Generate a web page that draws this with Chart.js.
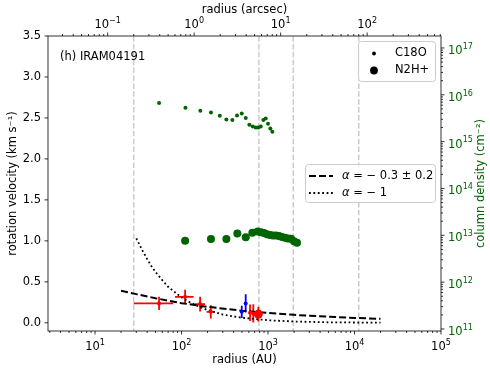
<!DOCTYPE html>
<html>
<head>
<meta charset="utf-8">
<script src="https://cdn.jsdelivr.net/npm/chart.js@4.4.1/dist/chart.umd.min.js"></script>
<style>
body { margin: 0; background: #fff; }
</style>
</head>
<body>
<canvas id="rot" width="490" height="368"></canvas>
<script>
// IRAM04191, distance 140 pc (top axis = AU / 140)
var distance = 140;

// column density (right axis)
var c18oRadius = [55, 111, 165, 219, 277, 330, 387, 438, 497, 553, 608, 666, 721, 773, 824, 883, 940, 1000, 1064, 1122];
var c18oColumn = [6.65e15, 5.27e15, 4.55e15, 4.19e15, 3.56e15, 2.97e15, 2.88e15, 3.61e15, 3.98e15, 3.18e15,
                  2.28e15, 2.10e15, 2.00e15, 2.00e15, 2.10e15, 2.88e15, 3.12e15, 2.40e15, 1.91e15, 1.62e15];
var n2hRadius = [110, 219, 330, 442, 553, 659, 760, 830, 899, 973, 1054, 1142, 1237, 1339, 1451, 1572, 1703, 1845, 1998, 2164];
var n2hColumn = [7.7e12, 8.3e12, 8.3e12, 1.09e13, 9.1e12, 1.14e13, 1.2e13, 1.16e13, 1.12e13, 1.05e13,
                 1.02e13, 9.9e12, 9.9e12, 9.7e12, 9.2e12, 8.9e12, 8.5e12, 8.4e12, 7.5e12, 6.9e12];

// rotation velocity (left axis)
var redRadius = [55, 110, 164, 218];
var redVelocity = [0.237, 0.317, 0.228, 0.134];
var redRlo = [28, 84, 143, 195];
var redRhi = [80, 138, 187, 243];
var redErr = [0.08, 0.085, 0.09, 0.08];

var blueRadius = [497, 552];
var blueVelocity = [0.134, 0.237];
var blueRlo = [485, 540];
var blueRhi = [510, 565];
var blueErr = [0.075, 0.11];

var red2Radius = [620, 676];
var red2Velocity = [0.122, 0.115];
var red2Rlo = [605, 660];
var red2Rhi = [635, 692];
var red2Err = [0.1, 0.11];

var bigRadius = [773];
var bigVelocity = [0.106];
var bigErr = [0.09];

// model curves
var fitRadius = [20, 30, 50, 100, 200, 500, 1000, 2000, 5000, 10000, 20000];
var fitVelocity = [0.39, 0.35, 0.30, 0.24, 0.195, 0.148, 0.12, 0.097, 0.074, 0.06, 0.049];
var kepRadius = [30, 35, 40, 45, 50, 60, 70, 80, 100, 120, 150, 200, 300, 500, 1000, 2000, 5000, 20000];
var kepVelocity = [1.03, 0.89, 0.78, 0.69, 0.62, 0.52, 0.44, 0.39, 0.31, 0.26, 0.21, 0.155, 0.10, 0.062, 0.031, 0.016, 0.006, 0.0016];

// vertical markers (AU)
var markRadius = [28, 784, 1960, 11200];

var velTicks = [0, 0.5, 1, 1.5, 2, 2.5, 3, 3.5];
var legendMarkers = ['C18O', 'N2H+'];
var legendAlpha = ['\u2212 0.3 \u00b1 0.2', '\u2212 1'];

var green = '#006400';
var FONT = 'DejaVu Sans';
var FS = 11.5;

function logTicks(min, max) {
    var out = [];
    for (var e = Math.floor(Math.log10(min)); e <= Math.ceil(Math.log10(max)); e++) {
        for (var m = 1; m < 10; m++) {
            var v = m * Math.pow(10, e);
            if (v >= min * 0.9999 && v <= max * 1.0001) out.push({value: v, major: m === 1});
        }
    }
    return out;
}

function pts(xs, ys) {
    return xs.map(function (v, i) { return {x: v, y: ys[i]}; });
}

function fix(w, h) {
    return function (s) {
        if (w) s.width = w;
        if (h) s.height = h;
        s.paddingLeft = s.paddingRight = s.paddingTop = s.paddingBottom = 0;
    };
}

var xMin = 2.86, xMax = 1e5;
var nMin = 9.06e10, nMax = 1.8e17;

var bars = [
    {r: redRadius, v: redVelocity, lo: redRlo, hi: redRhi, e: redErr, c: '#ff0000'},
    {r: blueRadius, v: blueVelocity, lo: blueRlo, hi: blueRhi, e: blueErr, c: '#0000ff'},
    {r: red2Radius, v: red2Velocity, lo: red2Rlo, hi: red2Rhi, e: red2Err, c: '#ff0000'},
    {r: bigRadius, v: bigVelocity, lo: bigRadius, hi: bigRadius, e: bigErr, c: '#ff0000'}
];

// "10" with a raised exponent, like matplotlib mathtext
function powText(ctx, value, px, py, align, color) {
    var exp = String(Math.round(Math.log10(value))).replace('-', '\u2212');
    ctx.font = FS + 'px "' + FONT + '"';
    var wb = ctx.measureText('10').width;
    ctx.font = (FS * 0.7) + 'px "' + FONT + '"';
    var we = ctx.measureText(exp).width;
    var x0 = align === 'center' ? px - (wb + we) / 2 : px;
    ctx.fillStyle = color;
    ctx.textAlign = 'left';
    ctx.textBaseline = 'alphabetic';
    ctx.font = FS + 'px "' + FONT + '"';
    ctx.fillText('10', x0, py);
    ctx.font = (FS * 0.7) + 'px "' + FONT + '"';
    ctx.fillText(exp, x0 + wb, py - 5.2);
}

var extras = {
    id: 'extras',
    beforeDatasetsDraw: function (chart) {
        var ctx = chart.ctx, a = chart.chartArea, x = chart.scales.x, y = chart.scales.y;
        ctx.save();
        ctx.beginPath();
        ctx.rect(a.left, a.top, a.right - a.left, a.bottom - a.top);
        ctx.clip();
        // gray dashed markers
        ctx.strokeStyle = '#cccccc';
        ctx.lineWidth = 1.5;
        ctx.setLineDash([5.5, 2.4]);
        markRadius.forEach(function (r) {
            var px = x.getPixelForValue(r);
            ctx.beginPath();
            ctx.moveTo(px, a.top);
            ctx.lineTo(px, a.bottom);
            ctx.stroke();
        });
        ctx.setLineDash([]);
        // error bars
        ctx.lineWidth = 1.8;
        bars.forEach(function (b) {
            ctx.strokeStyle = b.c;
            b.r.forEach(function (r, i) {
                var py = y.getPixelForValue(b.v[i]);
                var px = x.getPixelForValue(r);
                ctx.beginPath();
                ctx.moveTo(x.getPixelForValue(b.lo[i]), py);
                ctx.lineTo(x.getPixelForValue(b.hi[i]), py);
                ctx.moveTo(px, y.getPixelForValue(b.v[i] - b.e[i]));
                ctx.lineTo(px, y.getPixelForValue(b.v[i] + b.e[i]));
                ctx.stroke();
            });
        });
        ctx.restore();
    },
    afterDraw: function (chart) {
        var ctx = chart.ctx, a = chart.chartArea;
        ctx.save();
        // spines
        ctx.strokeStyle = '#000';
        ctx.lineWidth = 0.8;
        ctx.strokeRect(a.left, a.top, a.right - a.left, a.bottom - a.top);
        // tick marks and log tick labels
        ['x', 'x2', 'y', 'yR'].forEach(function (id) {
            var s = chart.scales[id];
            s.ticks.forEach(function (t) {
                var p = s.getPixelForValue(t.value);
                var len = t.major === false ? 2 : 3.5;
                ctx.strokeStyle = '#000';
                ctx.lineWidth = 0.8;
                ctx.beginPath();
                if (id === 'x') { ctx.moveTo(p, a.bottom); ctx.lineTo(p, a.bottom + len); }
                if (id === 'x2') { ctx.moveTo(p, a.top); ctx.lineTo(p, a.top - len); }
                if (id === 'y') { ctx.moveTo(a.left, p); ctx.lineTo(a.left - len, p); }
                if (id === 'yR') { ctx.moveTo(a.right, p); ctx.lineTo(a.right + len, p); }
                ctx.stroke();
                if (t.major) {
                    if (id === 'x') powText(ctx, t.value, p, a.bottom + 19, 'center', '#000');
                    if (id === 'x2') powText(ctx, t.value, p, a.top - 8, 'center', '#000');
                    if (id === 'yR') powText(ctx, t.value, a.right + 7, p + 6, 'left', green);
                }
            });
        });
        // right axis title
        ctx.fillStyle = green;
        ctx.font = FS + 'px "' + FONT + '"';
        ctx.textAlign = 'center';
        ctx.textBaseline = 'middle';
        ctx.translate(481, (a.top + a.bottom) / 2);
        ctx.rotate(-Math.PI / 2);
        ctx.fillText('column density (cm\u207b\u00b2)', 0, 0);
        ctx.restore();

        ctx.save();
        ctx.font = FS + 'px "' + FONT + '"';
        ctx.textBaseline = 'middle';
        ctx.fillStyle = '#000';
        ctx.fillText('(h) IRAM04191', 60, 57);

        function box(bx, by, bw, bh) {
            ctx.beginPath();
            ctx.roundRect(bx, by, bw, bh, 3);
            ctx.fillStyle = 'rgba(255,255,255,0.8)';
            ctx.fill();
            ctx.strokeStyle = '#cccccc';
            ctx.lineWidth = 1;
            ctx.stroke();
        }
        // marker legend
        box(358.5, 41.5, 77, 40);
        ctx.fillStyle = '#000';
        [1.9, 3.9].forEach(function (rad, i) {
            ctx.beginPath();
            ctx.arc(374, 53.5 + i * 17, rad, 0, Math.PI * 2);
            ctx.fill();
            ctx.fillText(legendMarkers[i], 395, 53.5 + i * 17);
        });
        // curve legend
        box(305.5, 164.5, 130, 38);
        ctx.strokeStyle = '#000';
        [[7, 3], [1.8, 2.6]].forEach(function (d, i) {
            var ly = 176 + i * 17;
            ctx.setLineDash(d);
            ctx.lineWidth = i === 0 ? 2 : 1.8;
            ctx.beginPath();
            ctx.moveTo(309, ly);
            ctx.lineTo(333, ly);
            ctx.stroke();
            ctx.setLineDash([]);
            ctx.fillStyle = '#000';
            ctx.font = 'italic ' + FS + 'px "' + FONT + '"';
            ctx.fillText('\u03b1', 342, ly);
            var w = ctx.measureText('\u03b1').width;
            ctx.font = FS + 'px "' + FONT + '"';
            ctx.fillText(' = ' + legendAlpha[i], 342 + w, ly);
        });
        ctx.restore();
    }
};

var tickFont = {family: FONT, size: FS};
var noLabel = function () { return ''; };

new Chart(document.getElementById('rot'), {
    type: 'scatter',
    data: {
        datasets: [
            {label: 'C18O', data: pts(c18oRadius, c18oColumn), yAxisID: 'yR', xAxisID: 'x',
             pointRadius: 2, backgroundColor: green, borderWidth: 0},
            {label: 'N2H+', data: pts(n2hRadius, n2hColumn), yAxisID: 'yR', xAxisID: 'x',
             pointRadius: 4, backgroundColor: green, borderWidth: 0},
            {label: 'big', data: pts(bigRadius, bigVelocity), yAxisID: 'y', xAxisID: 'x',
             pointRadius: 4.5, backgroundColor: '#ff0000', borderWidth: 0},
            {label: 'red', data: pts(redRadius, redVelocity), yAxisID: 'y', xAxisID: 'x',
             pointRadius: 2, backgroundColor: '#ff0000', borderWidth: 0},
            {label: 'blue', data: pts(blueRadius, blueVelocity), yAxisID: 'y', xAxisID: 'x',
             pointRadius: 2, backgroundColor: '#0000ff', borderWidth: 0},
            {label: 'red2', data: pts(red2Radius, red2Velocity), yAxisID: 'y', xAxisID: 'x',
             pointRadius: 2, backgroundColor: '#ff0000', borderWidth: 0},
            {label: 'fit', data: pts(fitRadius, fitVelocity), yAxisID: 'y', xAxisID: 'x',
             showLine: true, pointRadius: 0, borderColor: '#000', borderWidth: 2, borderDash: [7, 3]},
            {label: 'kep', data: pts(kepRadius, kepVelocity), yAxisID: 'y', xAxisID: 'x',
             showLine: true, pointRadius: 0, borderColor: '#000', borderWidth: 1.8, borderDash: [1.8, 2.6]}
        ]
    },
    options: {
        responsive: false,
        animation: false,
        layout: {padding: 0},
        plugins: {legend: {display: false}, tooltip: {enabled: false}},
        scales: {
            x: {
                type: 'logarithmic', position: 'bottom', min: xMin, max: xMax,
                grid: {display: false, drawTicks: false}, border: {display: false},
                afterBuildTicks: function (s) { s.ticks = logTicks(xMin, xMax); },
                afterFit: fix(0, 37),
                ticks: {font: tickFont, padding: 7, autoSkip: false, maxRotation: 0, callback: noLabel},
                title: {display: true, text: 'radius (AU)', font: tickFont, color: '#000', padding: {top: 0, bottom: 1}}
            },
            x2: {
                type: 'logarithmic', position: 'top', axis: 'x', min: xMin / distance, max: xMax / distance,
                grid: {display: false, drawTicks: false}, border: {display: false},
                afterBuildTicks: function (s) { s.ticks = logTicks(xMin / distance, xMax / distance); },
                afterFit: fix(0, 36),
                ticks: {font: tickFont, padding: 7, autoSkip: false, maxRotation: 0, callback: noLabel},
                title: {display: true, text: 'radius (arcsec)', font: tickFont, color: '#000', padding: {top: 3, bottom: 0}}
            },
            y: {
                type: 'linear', position: 'left', min: -0.1, max: 3.5,
                grid: {display: false, drawTicks: false}, border: {display: false},
                afterBuildTicks: function (s) { s.ticks = velTicks.map(function (v) { return {value: v}; }); },
                afterFit: fix(48, 0),
                ticks: {font: tickFont, color: '#000', padding: 7, callback: function (v) { return v.toFixed(1); }},
                title: {display: true, text: 'rotation velocity (km s\u207b\u00b9)', font: tickFont, color: '#000', padding: {top: 6, bottom: 0}}
            },
            yR: {
                type: 'logarithmic', position: 'right', min: nMin, max: nMax,
                grid: {display: false, drawTicks: false}, border: {display: false},
                afterBuildTicks: function (s) { s.ticks = logTicks(nMin, nMax); },
                afterFit: fix(49, 0),
                ticks: {font: tickFont, padding: 7, autoSkip: false, callback: noLabel}
            }
        }
    },
    plugins: [extras]
});
</script>
</body>
</html>
